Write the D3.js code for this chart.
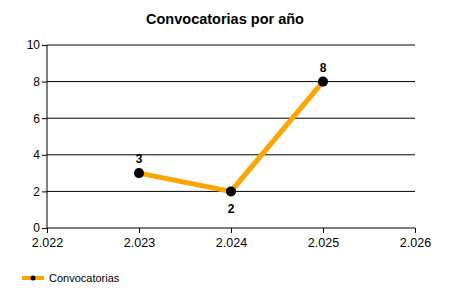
<!DOCTYPE html>
<html>
<head>
<meta charset="utf-8">
<script src="https://cdn.jsdelivr.net/npm/d3@7"></script>
<style>
  body { margin: 0; background: #fff; }
  svg { font-family: "Liberation Sans", Arial, sans-serif; }
</style>
</head>
<body>
<div id="container"></div>
<script>
// datos
const years = [2.023, 2.024, 2.025];
const counts = [3, 2, 8];
const xTicks = [2.022, 2.023, 2.024, 2.025, 2.026];
const yTicks = [0, 2, 4, 6, 8, 10];
const seriesName = 'Convocatorias';
const title = 'Convocatorias por año';

const width = 450, height = 300;
const margin = {left: 47, right: 35, top: 45, bottom: 72};
const innerWidth = width - margin.left - margin.right;
const innerHeight = height - margin.top - margin.bottom;

const svg = d3.select('#container').append('svg')
    .attr('width', width)
    .attr('height', height);

svg.append('text')
    .attr('x', 225)
    .attr('y', 24)
    .attr('text-anchor', 'middle')
    .style('font-size', '14.5px')
    .style('font-weight', 'bold')
    .text(title);

const g = svg.append('g').attr('transform', `translate(${margin.left},${margin.top})`);

const x = d3.scaleLinear().domain([2.022, 2.026]).range([0, innerWidth]);
const y = d3.scaleLinear().domain([0, 10]).range([innerHeight, 0]);

const fmt = d => d3.format('.3f')(d);

// eje y con rejilla
const yAxisG = g.append('g')
    .call(d3.axisLeft(y).tickValues(yTicks).tickSize(5).tickPadding(2));
yAxisG.select('.domain').remove();
yAxisG.selectAll('text').style('font-size', '12px').attr('fill', '#000');
yAxisG.selectAll('.tick line').attr('stroke', '#000');

g.append('g').selectAll('line.grid')
    .data(yTicks)
    .join('line')
    .attr('x1', 0).attr('x2', innerWidth)
    .attr('y1', d => y(d)).attr('y2', d => y(d))
    .attr('stroke', '#000');

g.append('line')
    .attr('x1', 0).attr('x2', 0)
    .attr('y1', 0).attr('y2', innerHeight)
    .attr('stroke', '#000');

const xAxisG = g.append('g')
    .attr('transform', `translate(0,${innerHeight})`)
    .call(d3.axisBottom(x).tickValues(xTicks).tickFormat(fmt).tickSize(5).tickPadding(5));
xAxisG.select('.domain').remove();
xAxisG.selectAll('text').style('font-size', '12.5px').attr('fill', '#000');
xAxisG.selectAll('.tick line').attr('stroke', '#000');

const data = years.map((yr, i) => ({year: yr, value: counts[i]}));

g.append('path')
    .datum(data)
    .attr('fill', 'none')
    .attr('stroke', '#FFA500')
    .attr('stroke-width', 5)
    .attr('d', d3.line().x(d => x(d.year)).y(d => y(d.value)));

g.selectAll('circle.pt')
    .data(data)
    .join('circle')
    .attr('cx', d => x(d.year))
    .attr('cy', d => y(d.value))
    .attr('r', 5)
    .attr('fill', '#000');

g.selectAll('text.lbl')
    .data(data)
    .join('text')
    .attr('x', d => x(d.year))
    .attr('y', (d, i) => {
        const prev = i > 0 ? data[i - 1].value : Infinity;
        return d.value < prev && i > 0 ? y(d.value) + 22 : y(d.value) - 10;
    })
    .attr('text-anchor', 'middle')
    .style('font-size', '12px')
    .style('font-weight', 'bold')
    .text(d => d.value);

// leyenda
const leg = svg.append('g').attr('transform', 'translate(22,278)');
leg.append('line').attr('x1', 0).attr('x2', 22).attr('y1', 0).attr('y2', 0)
    .attr('stroke', '#FFA500').attr('stroke-width', 4);
leg.append('circle').attr('cx', 11).attr('cy', 0).attr('r', 2.5).attr('fill', '#000');
leg.append('text').attr('x', 27).attr('y', 4).style('font-size', '11px').text(seriesName);
</script>
</body>
</html>
